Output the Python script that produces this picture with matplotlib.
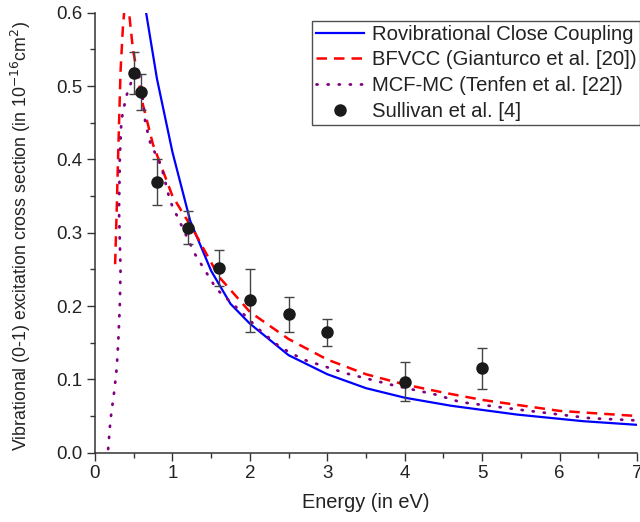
import matplotlib
matplotlib.use("Agg")
import matplotlib.pyplot as plt
from matplotlib.ticker import MultipleLocator

plt.rcParams['font.family'] = ['Liberation Sans', 'DejaVu Sans']

# Rovibrational close coupling (blue solid)
cc_e = [0.55, 0.66, 0.8, 1.0, 1.23, 1.5, 1.75, 2.0, 2.5, 3.0, 3.5, 4.0, 4.6, 5.45, 6.3, 7.0]
cc_s = [0.75, 0.60, 0.51, 0.41, 0.316, 0.248, 0.203, 0.176, 0.133, 0.107, 0.088, 0.075, 0.064, 0.052, 0.043, 0.038]

# BFVCC, Gianturco et al. (red dashed)
bf_e = [0.26, 0.28, 0.30, 0.33, 0.36, 0.40, 0.44, 0.49, 0.62, 0.75, 0.84, 1.0, 1.3, 1.6, 2.0, 2.5,
        3.0, 3.5, 4.0, 4.5, 5.0, 6.0, 7.0]
bf_s = [0.257, 0.33, 0.41, 0.52, 0.58, 0.63, 0.60, 0.55, 0.474, 0.42, 0.395, 0.35, 0.298, 0.24, 0.192,
        0.155, 0.127, 0.107, 0.093, 0.082, 0.072, 0.057, 0.050]

# MCF-MC, Tenfen et al. (purple dotted)
mc_e = [0.17, 0.20, 0.25, 0.28, 0.30, 0.32, 0.33, 0.32, 0.31, 0.32, 0.336, 0.35, 0.38, 0.41, 0.46, 0.52,
        0.57, 0.61, 0.65, 0.72, 0.8, 0.86, 0.97, 1.29, 1.57, 1.87, 2.13, 2.39, 2.69, 3.25, 3.85, 4.41,
        4.72, 5.53, 6.4, 7.0]
mc_s = [0.005, 0.045, 0.085, 0.115, 0.15, 0.2, 0.25, 0.29, 0.33, 0.40, 0.443, 0.458, 0.474, 0.488, 0.503,
        0.522, 0.515, 0.49, 0.45, 0.42, 0.404, 0.389, 0.343, 0.271, 0.223, 0.194, 0.167, 0.144, 0.127,
        0.108, 0.092, 0.079, 0.069, 0.058, 0.047, 0.044]

# Sullivan et al. measurements
sul_e = [0.5, 0.6, 0.8, 1.2, 1.6, 2.0, 2.5, 3.0, 4.0, 5.0]
sul_s = [0.518, 0.492, 0.369, 0.307, 0.252, 0.208, 0.189, 0.164, 0.097, 0.115]
sul_err = [0.029, 0.024, 0.031, 0.022, 0.024, 0.043, 0.024, 0.019, 0.027, 0.028]

fig = plt.figure(figsize=(6.4, 5.22), dpi=100)
ax = fig.add_axes([95 / 640, 1 - 452.7 / 522, 542 / 640, 440 / 522])

ax.plot(cc_e, cc_s, color='#0000ff', lw=1.6, label='Rovibrational Close Coupling')
ax.plot(bf_e, bf_s, color='#ff0000', lw=1.8, dashes=(4.2, 2.8), label='BFVCC (Gianturco et al. [20])')
ax.plot(mc_e, mc_s, color='#800080', lw=2.0, dashes=(0.4, 3.6), dash_capstyle='round',
        label='MCF-MC (Tenfen et al. [22])')
ax.errorbar(sul_e, sul_s, yerr=sul_err, fmt='none', ecolor='#444444',
            elinewidth=1.0, capsize=3.5, capthick=1.0)
ax.plot(sul_e, sul_s, 'o', color='#1a1a1a', ms=8, label='Sullivan et al. [4]')

ax.set_xlim(0, 7)
ax.set_ylim(0, 0.6)
ax.xaxis.set_major_locator(MultipleLocator(1))
ax.xaxis.set_minor_locator(MultipleLocator(0.5))
ax.yaxis.set_major_locator(MultipleLocator(0.1))
ax.yaxis.set_minor_locator(MultipleLocator(0.05))
ax.yaxis.set_major_formatter(matplotlib.ticker.FormatStrFormatter('%.1f'))

for s in ['top', 'right']:
    ax.spines[s].set_visible(False)
for s in ['left', 'bottom']:
    ax.spines[s].set_linewidth(1.1)
    ax.spines[s].set_color('#333333')
ax.tick_params(which='major', direction='out', length=6, width=1.0, color='#333333',
               labelsize=13.5, labelcolor='#222222', pad=3)
ax.tick_params(which='minor', direction='out', length=3.5, width=1.0, color='#333333')

ax.set_xlabel('Energy (in eV)', fontsize=14.4, color='#222222')
ax.set_ylabel('Vibrational (0-1) excitation cross section (in 10$^{-16}$cm$^2$)', fontsize=12.8,
              color='#222222')
ax.xaxis.set_label_coords(0.5, -0.092)
ax.yaxis.set_label_coords(-0.114, 0.4925)

leg = ax.legend(loc='upper left', bbox_to_anchor=(311.7 / 640, 1 - 20.7 / 522),
                bbox_transform=fig.transFigure, fontsize=14.6, frameon=True, fancybox=False,
                borderaxespad=0, borderpad=0.2, labelspacing=0.33, handlelength=2.4,
                handletextpad=0.35)
leg.get_frame().set_edgecolor('#222222')
leg.get_frame().set_linewidth(1.0)
for t in leg.get_texts():
    t.set_color('#222222')

fig.savefig('out.png', dpi=100)
